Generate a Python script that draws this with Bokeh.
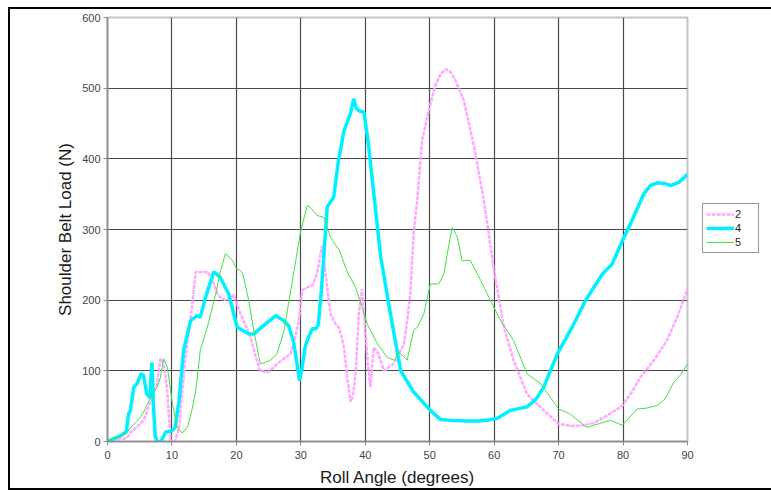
from bokeh.plotting import figure
from bokeh.models import Legend, LegendItem, FixedTicker, Range1d, InlineStyleSheet
from bokeh.embed import file_html
from bokeh.resources import INLINE

# Series "2" (pink, dashed)
x2 = [0, 1, 2, 3, 3.5, 4.5, 5.6, 6.2, 6.7, 7.2, 7.7, 8.2, 8.5, 9.0, 9.3, 9.8, 10.5, 11.1, 11.6,
      12.1, 13.1, 13.7, 14.5, 15.5, 16.3, 17.0, 17.5, 18.3, 19.0, 19.6, 20.6, 21.4, 22.2, 23.0,
      23.7, 24.8, 25.7, 26.6, 27.5, 28.4, 29.2, 29.7, 30.2, 31.0, 31.8, 32.5, 33.3, 33.8, 34.6,
      35.4, 36.0, 36.7, 37.2, 37.7, 38.1, 38.5, 39.0, 39.5, 40.0, 40.4, 40.8, 41.3, 42.0, 42.9,
      44.4, 46.0, 46.5, 47.0, 47.5, 48.1, 48.8, 49.9, 50.9, 51.7, 52.5, 53.3, 54.0, 55.3, 56.8,
      58.4, 59.9, 61.5, 63.0, 65.1, 67.7, 70.0, 72.0, 73.9, 75.5, 77.0, 78.5, 79.9, 81.5, 82.7,
      84.8, 86.8, 88.4, 90]
y2 = [0, 2, 3, 5, 12, 20, 30, 45, 58, 70, 82, 117, 115, 95, 67, 1, 0, 20, 70,
      119, 190, 240, 240, 240, 228, 210, 204, 200, 203, 207, 181, 165, 148, 120,
      100, 98, 104, 112, 118, 124, 150, 171, 214, 218, 221, 237, 277, 240, 181,
      166, 160, 133, 90, 56, 65, 96, 181, 216, 157, 110, 77, 133, 125, 100,
      110, 138, 170, 212, 295, 345, 426, 470, 505, 520, 527, 522, 511, 482, 421,
      341, 247, 162, 115, 67, 44, 25, 22, 23, 26, 34, 42, 51, 72, 91,
      115, 143, 176, 216]

# Series "4" (cyan, thick)
x4 = [0, 1, 2, 2.9, 3.3, 3.5, 4.1, 4.6, 5.2, 5.6, 6.1, 6.6, 6.8, 6.9, 7.1, 7.4, 7.7, 8.3, 9.0,
      10.0, 10.5, 11.1, 11.8, 12.9, 13.9, 14.4, 15.2, 16.5, 17.5, 18.8, 20.1, 21.0, 22.0, 22.7,
      23.7, 25.0, 26.1, 27.2, 28.1, 28.9, 29.4, 29.8, 30.2, 30.7, 31.2, 31.8, 32.3, 32.7, 33.2,
      33.7, 34.1, 35.1, 35.8, 36.7, 37.2, 37.7, 38.2, 38.6, 39.0, 39.8, 40.5, 41.1, 42.4, 43.9,
      45.5, 47.5, 50.1, 51.7, 53.0, 55.8, 57.5, 58.9, 60.5, 62.5, 65.1, 66.5, 67.7, 69.8, 72.0,
      74.2, 76.8, 78.3, 79.9, 81.4, 83.2, 84.2, 85.3, 86.5, 87.4, 88.7, 90]
y4 = [0, 4, 8, 14, 40, 42, 77, 82, 96, 93, 67, 62, 100, 112, 55, 8, 0, 0, 13,
      15, 20, 58, 129, 171, 178, 176, 204, 240, 232, 209, 162, 157, 152, 152,
      160, 170, 178, 172, 164, 140, 110, 86, 105, 135, 148, 160, 159, 165, 215,
      280, 332, 346, 395, 440, 452, 464, 485, 472, 468, 466, 420, 369, 261, 181,
      100, 70, 44, 31, 30, 29, 29, 30, 33, 44, 49, 60, 77, 124, 160,
      200, 237, 251, 284, 313, 350, 362, 366, 365, 362, 367, 378]

# Series "5" (green, thin)
x5 = [0, 1, 2, 3, 3.6, 4.5, 5.1, 5.8, 6.7, 7.7, 8.2, 8.7, 9.3, 10.0, 10.8, 11.6, 12.4, 13.0,
      13.7, 14.4, 15.5, 16.8, 17.5, 18.3, 19.4, 20.0, 20.6, 21.0, 21.9, 22.7, 23.7, 24.5, 25.3,
      26.3, 27.4, 28.7, 30.0, 31.0, 31.6, 32.5, 33.6, 34.6, 36.0, 37.2, 38.5, 39.5, 40.3, 41.9,
      43.4, 44.5, 45.2, 46.0, 46.5, 47.5, 48.1, 49.1, 50.1, 51.4, 52.2, 53.0, 53.5, 54.3, 55.0,
      56.3, 57.9, 59.4, 61.0, 63.0, 65.1, 67.2, 70.0, 71.8, 73.0, 74.4, 76.2, 78.0, 79.9, 82.2,
      83.5, 85.3, 86.5, 87.9, 89.0, 90]
y5 = [0, 5, 6, 12, 20, 28, 34, 45, 63, 77, 90, 117, 105, 58, 20, 12, 20, 40,
      72, 129, 162, 209, 240, 266, 256, 245, 242, 237, 200, 157, 110, 112, 115,
      124, 157, 228, 299, 334, 330, 320, 317, 289, 270, 240, 218, 190, 166, 138,
      119, 115, 126, 120, 115, 157, 162, 181, 223, 223, 237, 280, 303, 289, 256,
      256, 228, 200, 171, 143, 96, 82, 46, 39, 30, 20, 25, 30, 23, 46,
      47, 51, 60, 84, 95, 110]

x_ticks = [0, 10, 20, 30, 40, 50, 60, 70, 80, 90]
y_ticks = [0, 100, 200, 300, 400, 500, 600]
series_names = ["2", "4", "5"]

FONT = "Liberation Sans"

p = figure(width=771, height=491, frame_width=580, frame_height=424,
           min_border_left=107, min_border_right=0, min_border_top=17, min_border_bottom=50,
           x_range=Range1d(0, 90), y_range=Range1d(0, 600),
           output_backend="svg", toolbar_location=None,
           x_axis_label="Roll Angle (degrees)", y_axis_label="Shoulder Belt Load (N)")

p.background_fill_color = "white"
p.border_fill_color = "white"
p.outline_line_color = "#c4c4c4"
p.outline_line_width = 2

for ax in (p.xaxis[0], p.yaxis[0]):
    ax.axis_line_color = "#8a8a8a"
    ax.axis_line_width = 1.5
    ax.major_tick_line_color = "#8a8a8a"
    ax.major_tick_out = 4
    ax.major_tick_in = 0
    ax.minor_tick_line_color = None
    ax.major_label_text_font = FONT
    ax.major_label_text_font_size = "11px"
    ax.major_label_text_color = "#444444"
    ax.axis_label_text_font = FONT
    ax.axis_label_text_font_size = "17px"
    ax.axis_label_text_font_style = "normal"
    ax.axis_label_text_color = "#1a1a1a"

p.xaxis.ticker = FixedTicker(ticks=x_ticks)
p.yaxis.ticker = FixedTicker(ticks=y_ticks)
p.xaxis.major_label_standoff = 5
p.yaxis.major_label_standoff = 3
p.xaxis.axis_label_standoff = 6
p.yaxis.axis_label_standoff = 4

p.xgrid.ticker = FixedTicker(ticks=x_ticks)
p.ygrid.ticker = FixedTicker(ticks=y_ticks)
for g in (p.xgrid[0], p.ygrid[0]):
    g.grid_line_color = "#4a4a4a"
    g.grid_line_width = 1.2

r2 = p.line(x2, y2, line_color="#ffa0ff", line_width=2.5, line_dash="4 1", line_alpha=0.9)
r4 = p.line(x4, y4, line_color="#00f0ff", line_width=3.5)
r5 = p.line(x5, y5, line_color="#44e044", line_width=1)

legend = Legend(items=[LegendItem(label=series_names[0], renderers=[r2]),
                       LegendItem(label=series_names[1], renderers=[r4]),
                       LegendItem(label=series_names[2], renderers=[r5])],
                location=(15, 188))
legend.label_text_font = FONT
legend.label_text_font_size = "11px"
legend.label_text_color = "#222222"
legend.glyph_width = 28
legend.glyph_height = 12
legend.label_height = 14
legend.label_standoff = 1
legend.spacing = 0
legend.padding = 3
legend.margin = 0
legend.border_line_color = "#333333"
legend.border_line_width = 1.5
legend.background_fill_color = "white"
p.add_layout(legend, "right")

p.stylesheets = [InlineStyleSheet(css="""
:host { outline: 2px solid black; outline-offset: -9px; }
:host::after { content: ""; position: absolute; left: 8px; top: 7px; right: 1px; bottom: 1px;
  border: 2px solid black; pointer-events: none; z-index: 100; }
""")]

open("out.html", "w").write(file_html(p, INLINE))
